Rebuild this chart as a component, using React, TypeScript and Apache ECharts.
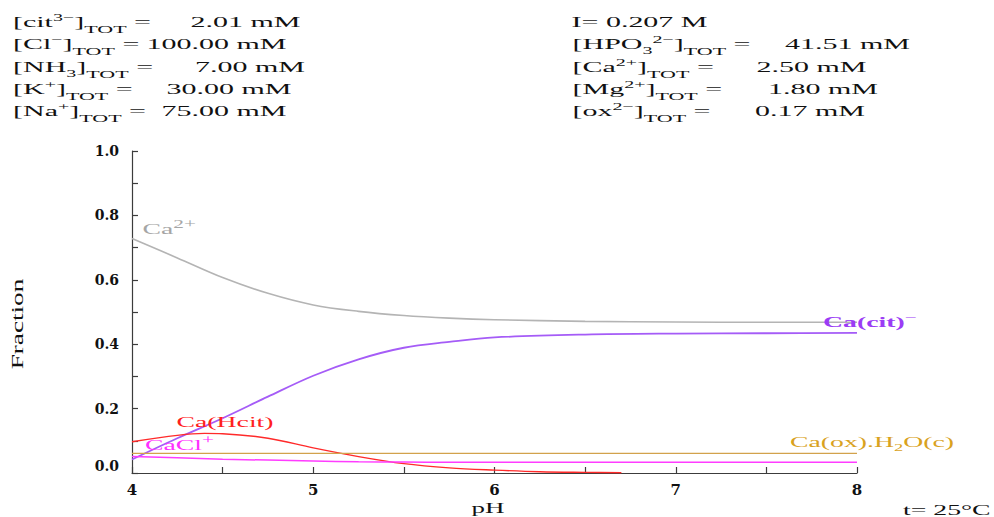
import React, { useEffect, useRef } from 'react';
import * as echarts from 'echarts';

// pH grid shared by most calcium species
const PH = [4.0, 4.25, 4.5, 4.75, 5.0, 5.25, 5.5, 5.75, 6.0, 6.5, 7.0, 7.5, 8.0];
const CA_FREE = [0.728, 0.668, 0.607, 0.558, 0.522, 0.502, 0.489, 0.481, 0.476, 0.471, 0.469, 0.468, 0.468];
const CA_CIT = [0.042, 0.108, 0.17, 0.237, 0.302, 0.353, 0.389, 0.407, 0.421, 0.43, 0.433, 0.434, 0.435];
const CA_CL = [0.051, 0.047, 0.043, 0.04, 0.037, 0.035, 0.034, 0.033, 0.033, 0.033, 0.033, 0.033, 0.033];
const CA_OX_SOLID = [0.061, 0.061, 0.061, 0.061, 0.061, 0.061, 0.061, 0.061, 0.061, 0.061, 0.061, 0.061, 0.061];
// Ca(Hcit) vanishes before pH 7
const PH_HCIT = [4.0, 4.25, 4.4, 4.5, 4.75, 5.0, 5.25, 5.5, 5.75, 6.0, 6.25, 6.5, 6.7];
const CA_HCIT = [0.097, 0.117, 0.123, 0.122, 0.108, 0.078, 0.051, 0.029, 0.016, 0.009, 0.004, 0.002, 0.001];

const X_TICK_LABELS = ['4', '5', '6', '7', '8'];
const Y_TICK_LABELS = ['0.0', '0.2', '0.4', '0.6', '0.8', '1.0'];

// total concentrations (rich-text species names and their values)
const LEFT_SPECIES = [
  '{n|[cit}{sup|3−}{n|]}{sub|TOT}{n| =}',
  '{n|[Cl}{sup|−}{n|]}{sub|TOT}{n| =}',
  '{n|[NH}{low|3}{n|]}{sub|TOT}{n| =}',
  '{n|[K}{sup|+}{n|]}{sub|TOT}{n| =}',
  '{n|[Na}{sup|+}{n|]}{sub|TOT}{n| =}',
];
const LEFT_VALUES = ['2.01 mM', '100.00 mM', '7.00 mM', '30.00 mM', '75.00 mM'];
const IONIC_STRENGTH = 'I= 0.207 M';
const RIGHT_SPECIES = [
  '{n|[HPO}{low|3}{sup|2−}{n|]}{sub|TOT}{n| =}',
  '{n|[Ca}{sup|2+}{n|]}{sub|TOT}{n| =}',
  '{n|[Mg}{sup|2+}{n|]}{sub|TOT}{n| =}',
  '{n|[ox}{sup|2−}{n|]}{sub|TOT}{n| =}',
];
const RIGHT_VALUES = ['41.51 mM', '2.50 mM', '1.80 mM', '0.17 mM'];
const TEMPERATURE = 't= 25°C';
const Y_NAME = 'Fraction';
const X_NAME = 'pH';

const SPECIES_LABELS = [
  '{n|Ca}{sup|2+}',
  '{b|Ca(cit)}{sup|−}',
  '{n|Ca(Hcit)}',
  '{n|CaCl}{sup|+}',
  '{n|Ca(ox).H}{low|2}{n|O(c)}',
];

const SERIF = "'Liberation Serif', 'Times New Roman', serif";
const COLORS = {
  free: '#b4b4b4',
  cit: '#a55cf7',
  hcit: '#ff2a2a',
  cl: '#ff3cff',
  ox: '#d2a24c',
};
const LABEL_COLORS = ['#a6a6a6', '#9b3cf5', '#ff2020', '#ff30ff', '#d9a21e'];
// label anchor points (left edge, vertical centre of the main text)
const LABEL_POS = [
  [142.5, 228.5],
  [823, 322],
  [176.5, 422],
  [145, 445],
  [790, 441.5],
];
const LINE_Y = [21.7, 44.3, 66.7, 88.7, 111.3];
const LEFT_VALUE_X = [190.5, 146.5, 195, 166.5, 161.5];
const RIGHT_VALUE_X = [785, 756.5, 768, 755];

const richBase = (size: number, color: string, supSize: number) => ({
  n: { fontSize: size, fontFamily: SERIF, fill: color, color },
  b: { fontSize: size, fontFamily: SERIF, fontWeight: 'bold', fill: color, color },
  sup: { fontSize: supSize, fontFamily: SERIF, fill: color, color, padding: [0, 0, 9, 0] },
  sub: { fontSize: 11, fontFamily: SERIF, fill: color, color, padding: [15, 0, 0, 0] },
  low: { fontSize: 10, fontFamily: SERIF, fill: color, color, padding: [13, 0, 0, 0] },
});

const pairs = (xs: number[], ys: number[]) => xs.map((x, i) => [x, ys[i]]);

function wideText(x: number, y: number, text: string, scaleX: number, color: string, rich = true, supSize = 10) {
  return {
    type: 'text',
    x,
    y,
    scaleX,
    z: 100,
    style: {
      text,
      fill: color,
      fontSize: 15,
      fontFamily: SERIF,
      align: 'left',
      verticalAlign: 'middle',
      textAlign: 'left',
      textVerticalAlign: 'middle',
      rich: rich ? richBase(15, color, supSize) : undefined,
    },
  };
}

export default function App() {
  const ref = useRef<HTMLDivElement>(null);

  useEffect(() => {
    if (!ref.current) return;
    const chart = echarts.init(ref.current, undefined, { renderer: 'svg' });

    const lineSeries = (name: string, data: number[][], color: string, width: number) => ({
      name,
      type: 'line',
      data,
      showSymbol: false,
      symbol: 'none',
      smooth: 0.35,
      lineStyle: { color, width },
      itemStyle: { color },
      emphasis: { disabled: true },
      silent: true,
    });

    const graphic: any[] = [];
    LEFT_SPECIES.forEach((s, i) => {
      graphic.push(wideText(13, LINE_Y[i], s, 2.0, '#111'));
      graphic.push(wideText(LEFT_VALUE_X[i], LINE_Y[i], LEFT_VALUES[i], 2.0, '#111', false));
    });
    graphic.push(wideText(571.5, LINE_Y[0], IONIC_STRENGTH, 2.0, '#111', false));
    RIGHT_SPECIES.forEach((s, i) => {
      graphic.push(wideText(572.5, LINE_Y[i + 1], s, 2.0, '#111'));
      graphic.push(wideText(RIGHT_VALUE_X[i], LINE_Y[i + 1], RIGHT_VALUES[i], 2.0, '#111', false));
    });
    SPECIES_LABELS.forEach((s, i) => {
      graphic.push(wideText(LABEL_POS[i][0], LABEL_POS[i][1], s, 1.85, LABEL_COLORS[i], true, 11.5));
    });
    graphic.push({
      type: 'text',
      x: 17.5,
      y: 324,
      rotation: Math.PI / 2,
      scaleX: 1.6,
      style: {
        text: Y_NAME, fill: '#111', fontSize: 17, fontFamily: SERIF,
        align: 'center', verticalAlign: 'middle', textAlign: 'center', textVerticalAlign: 'middle',
      },
    });
    graphic.push({
      type: 'text',
      x: 488,
      y: 508.5,
      scaleX: 1.8,
      style: {
        text: X_NAME, fill: '#111', fontSize: 15, fontFamily: SERIF,
        align: 'center', verticalAlign: 'middle', textAlign: 'center', textVerticalAlign: 'middle',
      },
    });
    graphic.push({
      type: 'text',
      x: 903,
      y: 510,
      scaleX: 1.85,
      style: {
        text: TEMPERATURE, fill: '#111', fontSize: 15, fontFamily: SERIF,
        align: 'left', verticalAlign: 'middle', textAlign: 'left', textVerticalAlign: 'middle',
      },
    });

    const axisColor = '#3c3c3c';
    chart.setOption({
      animation: false,
      backgroundColor: '#ffffff',
      grid: { left: 132, right: 137, top: 151, bottom: 44, containLabel: false },
      xAxis: {
        type: 'value',
        min: 4,
        max: 8,
        interval: 0.5,
        axisLine: { show: true, onZero: false, lineStyle: { color: axisColor, width: 1.2 } },
        axisTick: { show: true, inside: true, length: 6, lineStyle: { color: axisColor, width: 1.2 } },
        splitLine: { show: false },
        axisLabel: {
          margin: 9,
          color: '#111',
          fontFamily: "'DejaVu Serif', serif",
          fontWeight: 'bold',
          fontSize: 15,
          formatter: (v: number) => (X_TICK_LABELS.includes(String(v)) ? String(v) : ''),
        },
      },
      yAxis: {
        type: 'value',
        min: 0,
        max: 1,
        interval: 0.1,
        axisLine: { show: true, onZero: false, lineStyle: { color: axisColor, width: 1.2 } },
        axisTick: { show: true, inside: true, length: 6, lineStyle: { color: axisColor, width: 1.2 } },
        splitLine: { show: false },
        axisLabel: {
          margin: 13,
          color: '#111',
          fontFamily: "'DejaVu Serif', serif",
          fontWeight: 'bold',
          fontSize: 14,
          formatter: (v: number) => {
            const s = v.toFixed(1);
            if (!Y_TICK_LABELS.includes(s)) return '';
            return s === '0.0' ? `{z|${s}}` : s;
          },
          rich: {
            z: {
              color: '#111',
              fontFamily: "'DejaVu Serif', serif",
              fontWeight: 'bold',
              fontSize: 14,
              padding: [0, 0, 14, 0],
            },
          },
        },
      },
      series: [
        lineSeries('Ca2+', pairs(PH, CA_FREE), COLORS.free, 1.6),
        lineSeries('Ca(cit)-', pairs(PH, CA_CIT), COLORS.cit, 1.8),
        lineSeries('Ca(Hcit)', pairs(PH_HCIT, CA_HCIT), COLORS.hcit, 1.4),
        lineSeries('Ca(ox).H2O(c)', pairs(PH, CA_OX_SOLID), COLORS.ox, 1.4),
        lineSeries('CaCl+', pairs(PH, CA_CL), COLORS.cl, 1.5),
      ],
      graphic,
    });

    return () => chart.dispose();
  }, []);

  return (
    <div
      ref={ref}
      style={{ position: 'absolute', left: 0, top: 0, width: 994, height: 517, background: '#fff' }}
    />
  );
}
